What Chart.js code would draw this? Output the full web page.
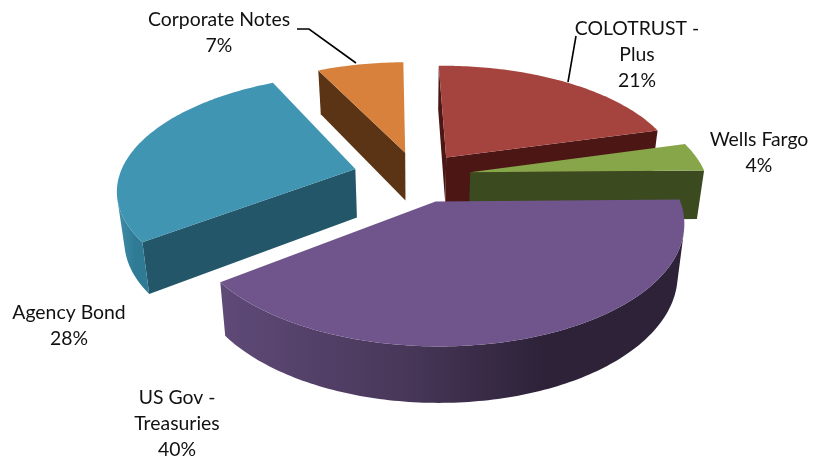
<!DOCTYPE html>
<html>
<head>
<meta charset="utf-8">
<style>
  html, body { margin: 0; padding: 0; background: #fff; }
  canvas { display: block; }
</style>
<script src="https://cdn.jsdelivr.net/npm/chart.js@4"></script>
</head>
<body>
<canvas id="pieChart" width="830" height="458"></canvas>
<script>
// chart data
const categories = ['COLOTRUST - Plus', 'Wells Fargo', 'US Gov - Treasuries', 'Agency Bond', 'Corporate Notes'];
const shares = [21, 4, 40, 28, 7];

// colours per slice
const topColors = ['#a5443f', '#87a64a', '#70558c', '#4095b2', '#d7813c'];
const sideColors = ['#4b1614', '#3b4a1f', '#2d2238', '#24566a', '#5a3414'];
const rimLeft = ['#4b1614', '#3b4a1f', '#5f4a78', '#3f8fab', '#5a3414'];
const rimMid = ['#4b1614', '#3b4a1f', '#483759', '#37829d', '#5a3414'];
const rimRight = ['#4b1614', '#3b4a1f', '#2d2238', '#2f7a94', '#5a3414'];

// how far each slice is pulled out of the pie
const explode = [50, 54, 55, 64, 52];

// text around the pie: lines, centre x, middle y of the first line
const labelBlocks = [
  { lines: ['COLOTRUST -', 'Plus', '21%'], x: 637, y: 29 },
  { lines: ['Wells Fargo', '4%'], x: 759, y: 140 },
  { lines: ['US Gov -', 'Treasuries', '40%'], x: 177, y: 398 },
  { lines: ['Agency Bond', '28%'], x: 69, y: 313 },
  { lines: ['Corporate Notes', '7%'], x: 219, y: 20 }
];
const leaderLines = [
  [[297, 29], [309, 29], [356, 63]],
  [[576, 36], [568, 82]]
];

// 3D view of the pie
const view = { cx: 417, cy: 176, tilt: 0.475, dist: 1460, height: 50, bottomScale: 0.975 };
const drawOrder = [4, 3, 0, 1, 2];

function project(ox, oy, r, a, bottom) {
  const X = ox + r * Math.cos(a);
  const Y = oy + r * Math.sin(a);
  let p = view.dist / (view.dist - Y);
  if (bottom) p *= view.bottomScale;
  return [view.cx + X * p, view.cy + (view.tilt * Y + (bottom ? view.height : 0)) * p];
}

function fillPoly(ctx, pts, color) {
  ctx.beginPath();
  pts.forEach((pt, i) => i ? ctx.lineTo(pt[0], pt[1]) : ctx.moveTo(pt[0], pt[1]));
  ctx.closePath();
  ctx.fillStyle = color;
  ctx.fill();
}

function signedArea(q) {
  let area = 0;
  q.forEach((pt, i) => {
    const n = q[(i + 1) % q.length];
    area += pt[0] * n[1] - n[0] * pt[1];
  });
  return area;
}

// the library works out each arc's angles, the plugin only draws them in perspective
const pie3d = {
  id: 'pie3d',
  beforeDatasetsDraw(chart) {
    const ctx = chart.ctx;
    const arcs = chart.getDatasetMeta(0).data;
    drawOrder.forEach(i => {
      const arc = arcs[i];
      const { startAngle, endAngle, outerRadius } = arc.getProps(['startAngle', 'endAngle', 'outerRadius'], true);
      const mid = (startAngle + endAngle) / 2;
      const ox = Math.cos(mid) * arc.options.offset;
      const oy = Math.sin(mid) * arc.options.offset;
      const steps = Math.max(6, Math.round((endAngle - startAngle) * 180 / Math.PI));
      const rim = [];
      for (let s = 0; s <= steps; s++) rim.push(startAngle + (endAngle - startAngle) * s / steps);

      // two straight walls
      [startAngle, endAngle].forEach((a, w) => {
        const q = [project(ox, oy, 0, a), project(ox, oy, outerRadius, a),
          project(ox, oy, outerRadius, a, true), project(ox, oy, 0, a, true)];
        const area = signedArea(q);
        if (w === 0 ? area < 0 : area > 0) fillPoly(ctx, q, sideColors[i]);
      });

      // curved wall: only the part turned to the viewer, shaded along x
      const upper = [], lower = [];
      for (let s = 0; s < steps; s++) {
        const q = [project(ox, oy, outerRadius, rim[s]), project(ox, oy, outerRadius, rim[s + 1]),
          project(ox, oy, outerRadius, rim[s + 1], true), project(ox, oy, outerRadius, rim[s], true)];
        if (signedArea(q) > 0) continue;
        if (!upper.length) { upper.push(q[0]); lower.push(q[3]); }
        upper.push(q[1]);
        lower.push(q[2]);
      }
      if (upper.length) {
        const xs = upper.map(pt => pt[0]);
        const grad = ctx.createLinearGradient(Math.min(...xs), 0, Math.max(...xs), 0);
        grad.addColorStop(0, rimLeft[i]);
        grad.addColorStop(0.4, rimMid[i]);
        grad.addColorStop(0.7, rimRight[i]);
        grad.addColorStop(1, rimRight[i]);
        fillPoly(ctx, upper.concat(lower.reverse()), grad);
      }

      // top face
      fillPoly(ctx, [project(ox, oy, 0, mid)].concat(rim.map(a => project(ox, oy, outerRadius, a))), topColors[i]);
    });
    return false;
  },
  afterDraw(chart) {
    const ctx = chart.ctx;
    ctx.strokeStyle = '#000';
    ctx.lineWidth = 1.6;
    leaderLines.forEach(line => {
      ctx.beginPath();
      line.forEach((pt, i) => i ? ctx.lineTo(pt[0], pt[1]) : ctx.moveTo(pt[0], pt[1]));
      ctx.stroke();
    });
    ctx.fillStyle = '#111';
    ctx.font = '19.4px Lato';
    ctx.textAlign = 'center';
    ctx.textBaseline = 'middle';
    labelBlocks.forEach(b => b.lines.forEach((t, i) => ctx.fillText(t, b.x, b.y + i * 26)));
  }
};

function renderPieChart() {
  const ctx = document.getElementById('pieChart').getContext('2d');
  new Chart(ctx, {
    type: 'pie',
    data: {
      labels: categories,
      datasets: [{
        data: shares,
        backgroundColor: topColors,
        borderWidth: 0,
        offset: explode,
        clip: false
      }]
    },
    options: {
      responsive: false,
      animation: false,
      rotation: -1,
      radius: 236,
      plugins: { legend: { display: false }, tooltip: { enabled: false } }
    },
    plugins: [pie3d]
  });
}

document.addEventListener('DOMContentLoaded', renderPieChart);
</script>
</body>
</html>
